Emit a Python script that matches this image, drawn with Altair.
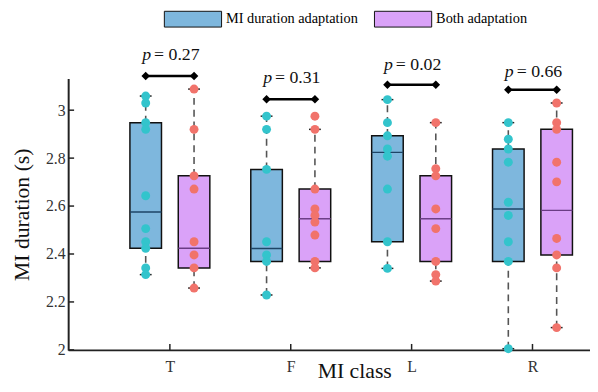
import json
import altair as alt
import pandas as pd

# ---------------- data ----------------
classes = ["T", "F", "L", "R"]
groups = ["MI duration adaptation", "Both adaptation"]

# individual values (s)
pts_T_mi = [3.059, 3.030, 2.948, 2.920, 2.643, 2.506, 2.451, 2.424, 2.342, 2.314]
pts_T_both = [3.088, 2.920, 2.726, 2.671, 2.451, 2.396, 2.342, 2.258]
pts_F_mi = [2.975, 2.920, 2.753, 2.451, 2.396, 2.369, 2.229]
pts_F_both = [2.975, 2.920, 2.671, 2.588, 2.561, 2.533, 2.479, 2.369, 2.342]
pts_L_mi = [3.044, 2.948, 2.893, 2.838, 2.808, 2.671, 2.451, 2.340]
pts_L_both = [2.948, 2.756, 2.726, 2.588, 2.506, 2.369, 2.314, 2.287]
pts_R_mi = [2.948, 2.879, 2.838, 2.783, 2.616, 2.561, 2.451, 2.369, 2.005]
pts_R_both = [3.030, 2.948, 2.920, 2.783, 2.701, 2.465, 2.396, 2.342, 2.093]

# box statistics per class (T, F, L, R)
mi_lo = [2.314, 2.229, 2.340, 2.005]
mi_q1 = [2.424, 2.369, 2.451, 2.369]
mi_med = [2.575, 2.423, 2.824, 2.588]
mi_q3 = [2.948, 2.753, 2.893, 2.838]
mi_hi = [3.059, 2.975, 3.044, 2.948]

both_lo = [2.258, 2.342, 2.287, 2.093]
both_q1 = [2.342, 2.369, 2.369, 2.396]
both_med = [2.424, 2.547, 2.547, 2.582]
both_q3 = [2.726, 2.671, 2.726, 2.920]
both_hi = [3.088, 2.920, 2.948, 3.030]

# significance annotations
p_values = ["0.27", "0.31", "0.02", "0.66"]
bracket_y = [3.143, 3.046, 3.106, 3.085]
label_y = [3.210, 3.115, 3.167, 3.140]

y_ticks = [2.0, 2.2, 2.4, 2.6, 2.8, 3.0]

# ---------------- tables ----------------
OFF = 0.2
pts = {
    ("T", 0): pts_T_mi, ("T", 1): pts_T_both,
    ("F", 0): pts_F_mi, ("F", 1): pts_F_both,
    ("L", 0): pts_L_mi, ("L", 1): pts_L_both,
    ("R", 0): pts_R_mi, ("R", 1): pts_R_both,
}
point_rows = []
for (c, g), vals in pts.items():
    ci = classes.index(c) + 1
    for v in vals:
        point_rows.append({"cls": c, "group": groups[g],
                           "pos": ci + (-OFF if g == 0 else OFF), "val": v})
points_df = pd.DataFrame(point_rows)

box_rows = []
for i, c in enumerate(classes):
    box_rows.append({"cls": c, "group": groups[0], "pos": i + 1 - OFF,
                     "lo": mi_lo[i], "q1": mi_q1[i], "med": mi_med[i],
                     "q3": mi_q3[i], "hi": mi_hi[i]})
    box_rows.append({"cls": c, "group": groups[1], "pos": i + 1 + OFF,
                     "lo": both_lo[i], "q1": both_q1[i], "med": both_med[i],
                     "q3": both_q3[i], "hi": both_hi[i]})
box_df = pd.DataFrame(box_rows)

sig_df = pd.DataFrame({
    "cls": classes,
    "ci": [i + 1 for i in range(len(classes))],
    "x1": [i + 1 - OFF for i in range(len(classes))],
    "x2": [i + 1 + OFF for i in range(len(classes))],
    "by": bracket_y,
    "ty": label_y,
    "ptxt": ["= " + p for p in p_values],
})
ytick_df = pd.DataFrame({"v": y_ticks})
xtick_df = pd.DataFrame({"v": [i + 1 for i in range(len(classes))]})

# ---------------- styling ----------------
SERIF = "'Liberation Serif', 'Times New Roman', serif"
W, H = 529, 275
X_DOMAIN = [0.1994, 4.435]
Y_DOMAIN = [2.0, 3.1317]
BOX_FILL = ["#7EB7DD", "#DAA2F8"]
MED_COL = ["#1E4566", "#6A3C84"]
PT_COL = ["#33C4CC", "#F1736B"]

x_axis = alt.Axis(values=[1, 2, 3, 4],
                  labelExpr="%s[datum.value - 1]" % json.dumps(classes),
                  title="MI class", labelPadding=9, tickSize=0,
                  titleX=290, titleY=28, titleBaseline="alphabetic",
                  titleAlign="center")
y_axis = alt.Axis(values=y_ticks, format=".1~f", title="MI duration (s)",
                  tickSize=0, labelPadding=3, titlePadding=12)


def X(field, **kw):
    return alt.X(field, type="quantitative",
                 scale=alt.Scale(domain=X_DOMAIN, nice=False, zero=False),
                 axis=x_axis, **kw)


def Y(field, **kw):
    return alt.Y(field, type="quantitative",
                 scale=alt.Scale(domain=Y_DOMAIN, nice=False, zero=False),
                 axis=y_axis, **kw)


boxes = alt.Chart(box_df)

whisk_up = boxes.mark_rule(color="#555555", strokeWidth=1.6,
                           strokeDash=[7, 5]).encode(
    x=X("pos"), y=Y("q3"), y2="hi")
whisk_dn = boxes.mark_rule(color="#555555", strokeWidth=1.6,
                           strokeDash=[7, 5]).encode(
    x=X("pos"), y=Y("lo"), y2="q1")
cap_hi = boxes.mark_rule(color="#222222", strokeWidth=1.5,
                         xOffset=-6, x2Offset=6).encode(
    x=X("pos"), x2="pos", y=Y("hi"))
cap_lo = boxes.mark_rule(color="#222222", strokeWidth=1.5,
                         xOffset=-6, x2Offset=6).encode(
    x=X("pos"), x2="pos", y=Y("lo"))

box = boxes.mark_bar(size=32, stroke="#111111", strokeWidth=1.5,
                     opacity=1).encode(
    x=X("pos"), y=Y("q1"), y2="q3",
    fill=alt.Fill("group:N",
                  scale=alt.Scale(domain=groups, range=BOX_FILL),
                  legend=alt.Legend(
                      title=None, orient="none", legendX=97, legendY=-90,
                      direction="horizontal",
                      symbolType="M-1,-0.276H1V0.276H-1Z",
                      symbolSize=3364, symbolStrokeColor="#111111",
                      symbolStrokeWidth=1, symbolOpacity=1,
                      labelFont=SERIF, labelFontSize=14.5, labelColor="#000000",
                      labelOffset=4, columnPadding=14)))

median = boxes.mark_rule(strokeWidth=1.5, xOffset=-16, x2Offset=16).encode(
    x=X("pos"), x2="pos", y=Y("med"),
    stroke=alt.Stroke("group:N",
                      scale=alt.Scale(domain=groups, range=MED_COL),
                      legend=None))

dots = alt.Chart(points_df).mark_circle(size=82, opacity=1).encode(
    x=X("pos"), y=Y("val"),
    color=alt.Color("group:N", scale=alt.Scale(domain=groups, range=PT_COL),
                    legend=None))

sig = alt.Chart(sig_df)
bracket = sig.mark_rule(color="#000000", strokeWidth=2.5).encode(
    x=X("x1"), x2="x2", y=Y("by"))
diam1 = sig.mark_point(shape="diamond", filled=True, size=75,
                       color="#000000", opacity=1).encode(x=X("x1"), y=Y("by"))
diam2 = sig.mark_point(shape="diamond", filled=True, size=75,
                       color="#000000", opacity=1).encode(x=X("x2"), y=Y("by"))
p_it = sig.mark_text(font=SERIF, fontStyle="italic", fontSize=18,
                     align="right", baseline="alphabetic", dx=-19,
                     color="#111111").encode(
    x=X("ci"), y=Y("ty"), text=alt.value("p"))
p_val = sig.mark_text(font=SERIF, fontSize=18, align="left",
                      baseline="alphabetic", dx=-16, color="#111111").encode(
    x=X("ci"), y=Y("ty"), text="ptxt:N")

ytk = alt.Chart(ytick_df).mark_rule(color="#222222", strokeWidth=1.5).encode(
    y=Y("v"), x=alt.value(0), x2=alt.value(6))
xtk = alt.Chart(xtick_df).mark_rule(color="#222222", strokeWidth=1.5).encode(
    x=X("v"), y=alt.value(H), y2=alt.value(H - 6))

chart = alt.layer(
    whisk_up, whisk_dn, cap_hi, cap_lo, box, median, dots,
    bracket, diam1, diam2, p_it, p_val, ytk, xtk
).resolve_scale(
    fill="independent", stroke="independent", color="independent"
).properties(
    width=W, height=H,
    padding={"left": 61, "top": 69, "right": 0, "bottom": 32},
    autosize=alt.AutoSizeParams(type="none"),
).configure(font=SERIF).configure_view(stroke=None).configure_axis(
    labelFont=SERIF, titleFont=SERIF, labelFontSize=16, titleFontSize=22,
    titleFontWeight="normal", labelColor="#333333", titleColor="#111111",
    domainColor="#222222", domainWidth=2, grid=False
).configure_legend(labelFont=SERIF)

chart.save("out.html", embed_options={"renderer": "svg", "actions": False})
